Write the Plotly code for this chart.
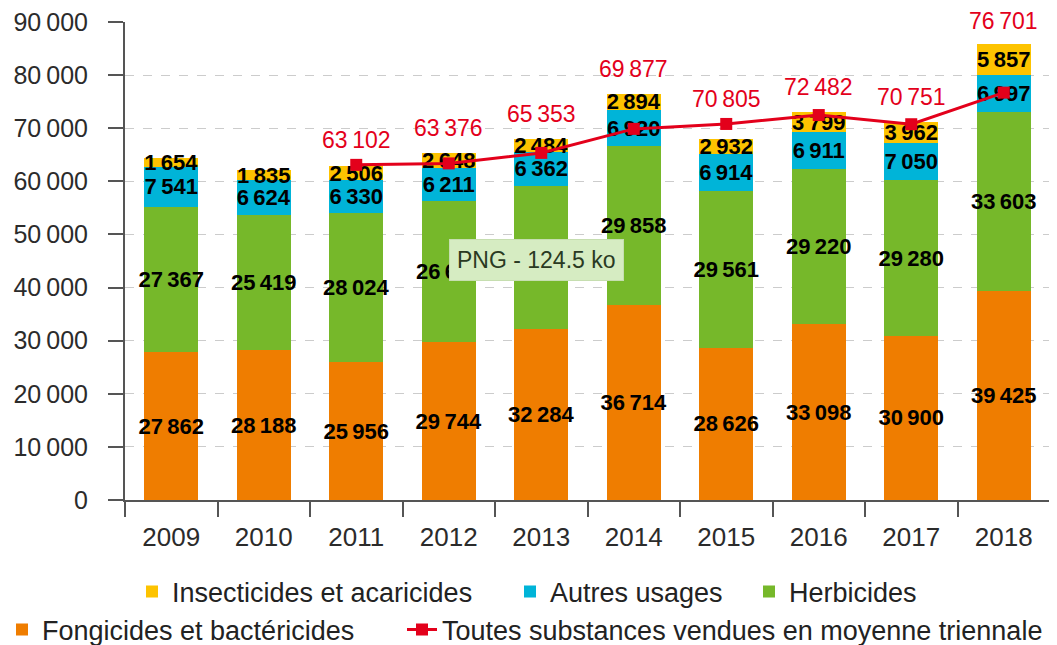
import plotly.graph_objects as go

years = ["2009", "2010", "2011", "2012", "2013", "2014", "2015", "2016", "2017", "2018"]
fongicides = [27862, 28188, 25956, 29744, 32284, 36714, 28626, 33098, 30900, 39425]
herbicides = [27367, 25419, 28024, 26643, 26867, 29858, 29561, 29220, 29280, 33603]
autres = [7541, 6624, 6330, 6211, 6362, 6920, 6914, 6911, 7050, 6997]
insecticides = [1654, 1835, 2506, 2648, 2484, 2894, 2932, 3799, 3962, 5857]
avg_years = ["2011", "2012", "2013", "2014", "2015", "2016", "2017", "2018"]
avg_values = [63102, 63376, 65353, 69877, 70805, 72482, 70751, 76701]
y_ticks = [0, 10000, 20000, 30000, 40000, 50000, 60000, 70000, 80000, 90000]

C_F = "#ef7d00"
C_H = "#76b82a"
C_A = "#00b4d8"
C_I = "#fdc300"
C_R = "#e3001b"

FONT = "Liberation Sans"
SEP = "\u2009"

# the page body adds an 8px margin: positions below are page pixels, shifted into figure pixels
OFF = 8
FIG_W, FIG_H = 1057, 645
PLOT_L, PLOT_R, PLOT_T, PLOT_B = 125 - OFF, 1050 - OFF, 22 - OFF, 500 - OFF
PW, PH = PLOT_R - PLOT_L, PLOT_B - PLOT_T
Y_MAX = 90000


def px2paper_x(px):
    return (px - OFF - PLOT_L) / PW


def px2paper_y(py):
    return (PLOT_B - (py - OFF)) / PH


def fmt(v):
    return f"{v:,}".replace(",", SEP)


fig = go.Figure()
series = [
    ("Fongicides et bactéricides", fongicides, C_F, "legend4"),
    ("Herbicides", herbicides, C_H, "legend3"),
    ("Autres usages", autres, C_A, "legend2"),
    ("Insecticides et acaricides", insecticides, C_I, "legend"),
]
for name, vals, col, leg in series:
    fig.add_trace(go.Bar(
        x=years, y=vals, name=name, marker=dict(color=col, line=dict(width=0)),
        text=[fmt(v) for v in vals], textposition="inside", insidetextanchor="middle",
        textangle=0, constraintext="none",
        textfont=dict(family=FONT, size=22, color="black", weight="bold"),
        legend=leg, cliponaxis=False,
    ))

fig.add_trace(go.Scatter(
    x=avg_years, y=avg_values, mode="lines+markers",
    name="Toutes substances vendues en moyenne triennale",
    line=dict(color=C_R, width=3), marker=dict(symbol="square", size=12, color=C_R),
    legend="legend5",
))

totals = [f + h + a + i for f, h, a, i in zip(fongicides, herbicides, autres, insecticides)]
for yr, v in zip(avg_years, avg_values):
    idx = years.index(yr)
    top = max(v, totals[idx])
    # keep the label inside the page: space left above the mark, in pixels
    room = PLOT_T + (1 - top / Y_MAX) * PH - 28
    shift = max(2, min(10, room))
    fig.add_annotation(x=idx, y=top, text=fmt(v), showarrow=False, yanchor="bottom",
                       yshift=shift, font=dict(family=FONT, size=23, color=C_R))

fig.add_annotation(xref="paper", yref="paper", x=px2paper_x(536), y=px2paper_y(260),
                   text="PNG - 124.5 ko", showarrow=False, bgcolor="#d6ecc2",
                   bordercolor="#c6deb0", borderwidth=1, borderpad=7,
                   font=dict(family=FONT, size=23, color="#2a3a22"))

legend_font = dict(family=FONT, size=27, color="#222222")
legend_specs = {
    "legend": (172, 592),
    "legend2": (550, 592),
    "legend3": (789, 592),
    "legend4": (42, 630),
    "legend5": (442, 630),
}
legend_layout = {}
for key, (text_x, text_y) in legend_specs.items():
    legend_layout[key] = dict(orientation="h", x=px2paper_x(text_x - 40), xanchor="left",
                              y=px2paper_y(text_y), yanchor="middle", font=legend_font,
                              bgcolor="rgba(0,0,0,0)", borderwidth=0)

fig.update_layout(
    width=FIG_W, height=FIG_H,
    margin=dict(l=PLOT_L, r=FIG_W - PLOT_R, t=PLOT_T, b=FIG_H - PLOT_B, autoexpand=False),
    plot_bgcolor="white", paper_bgcolor="white",
    barmode="stack", bargap=0.415,
    separators="." + SEP,
    uniformtext=dict(minsize=22, mode="show"),
    font=dict(family=FONT, color="#333333"),
    xaxis=dict(type="category", range=[-0.5, 9.5], showline=True, linecolor="#555555",
               linewidth=2, ticks="outside", tickson="boundaries", ticklen=15, tickwidth=2,
               tickcolor="#555555", tickfont=dict(family=FONT, size=26, color="#2b2b2b"),
               showgrid=False, ticklabelstandoff=13, automargin=False),
    yaxis=dict(range=[0, Y_MAX], tickvals=y_ticks, tickformat=",d", showline=True,
               linecolor="#555555", linewidth=2, ticks="outside", ticklen=15, tickwidth=2,
               tickcolor="#555555", tickfont=dict(family=FONT, size=25, color="#2b2b2b"),
               gridcolor="#cccccc", griddash="dash", gridwidth=1, zeroline=False,
               ticklabelstandoff=15, automargin=False, ticklabeloverflow="allow"),
    showlegend=True,
    **legend_layout,
)

fig.write_html("out.html")
